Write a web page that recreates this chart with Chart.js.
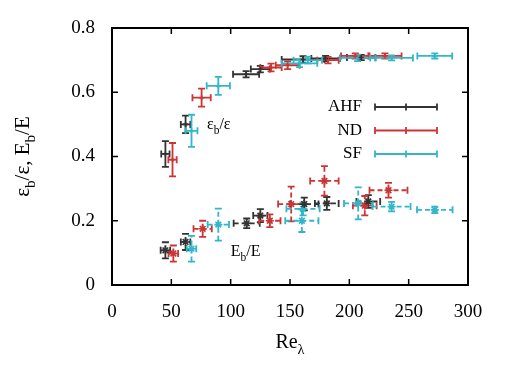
<!DOCTYPE html>
<html lang="en">
<head>
<meta charset="UTF-8">
<title>Bottleneck fraction vs Re_lambda</title>
<script src="https://cdn.jsdelivr.net/npm/chart.js@4.4.1/dist/chart.umd.min.js"></script>
<style>
  html, body { margin: 0; padding: 0; background: #fff; }
  #wrap { width: 509px; height: 382px; }
</style>
</head>
<body>
<div id="wrap"><canvas id="chart"></canvas></div>
<script>
// rows: [Re_lambda, value, x error, y error]
const ahfEps = [[45, 0.408, 3.5, 0.04], [62, 0.50, 4, 0.027], [113, 0.656, 11, 0.01], [125, 0.672, 8, 0.01],
                [161, 0.702, 18, 0.01], [180, 0.705, 12, 0.008], [210, 0.708, 12, 0.008]];
const ndEps  = [[51, 0.39, 3.5, 0.052], [75.5, 0.583, 7.7, 0.028], [134, 0.677, 9, 0.012], [148, 0.684, 10, 0.012],
                [182, 0.70, 9, 0.01], [205, 0.713, 12, 0.008], [230, 0.713, 14, 0.008]];
const sfEps  = [[67, 0.48, 5, 0.05], [89.6, 0.62, 9.8, 0.028], [158, 0.69, 15, 0.012], [165, 0.70, 12, 0.01],
                [207, 0.707, 15, 0.01], [235.6, 0.707, 18, 0.008], [272, 0.713, 14.7, 0.008]];

const ahfE = [[45, 0.108, 4, 0.025], [62, 0.134, 4, 0.025], [113.5, 0.192, 11, 0.015], [125, 0.216, 6, 0.02],
              [162, 0.252, 12, 0.02], [181, 0.254, 10, 0.02], [216, 0.26, 10, 0.02]];
const ndE  = [[51.7, 0.098, 4, 0.025], [76.4, 0.175, 7.7, 0.025], [133, 0.20, 9, 0.02], [151, 0.252, 11, 0.054],
              [179, 0.324, 12, 0.046], [213, 0.247, 10, 0.03], [233, 0.295, 16, 0.023]];
const sfE  = [[67, 0.113, 4, 0.04], [89.6, 0.188, 9, 0.05], [160, 0.20, 14, 0.035], [161, 0.237, 14, 0.02],
              [207.5, 0.254, 12, 0.05], [235.6, 0.244, 16, 0.015], [272, 0.234, 15, 0.01]];

const seriesNames = ['AHF', 'ND', 'SF'];
const colors = ['#333333', '#cc3535', '#33b6ca'];
const xTicks = [0, 50, 100, 150, 200, 250, 300];
const yTicks = [0, 0.2, 0.4, 0.6, 0.8];

const serif = "'Liberation Serif', 'DejaVu Serif', serif";

function makeSet(rows, idx, dashed) {
  return {
    label: seriesNames[idx] + (dashed ? ' E' : ' eps'),
    data: rows.map(r => ({ x: r[0], y: r[1] })),
    errors: rows.map(r => [r[2], r[3]]),
    dashed: dashed,
    legend: !dashed,
    borderColor: colors[idx],
    backgroundColor: colors[idx],
    pointStyle: dashed ? 'star' : 'cross',
    pointRadius: dashed ? 4 : 2.5,
    pointBorderWidth: 1.6,
    showLine: false
  };
}

// error bars, drawn under the point markers
const errorBars = {
  id: 'errorBars',
  beforeDatasetsDraw(chart) {
    const { ctx, scales: { x, y } } = chart;
    chart.data.datasets.forEach(ds => {
      ctx.save();
      ctx.strokeStyle = ds.borderColor;
      ctx.lineWidth = 1.8;
      ds.data.forEach((p, i) => {
        const [dx, dy] = ds.errors[i];
        const cx = x.getPixelForValue(p.x), cy = y.getPixelForValue(p.y);
        const x0 = x.getPixelForValue(p.x - dx), x1 = x.getPixelForValue(p.x + dx);
        const y0 = y.getPixelForValue(p.y - dy), y1 = y.getPixelForValue(p.y + dy);
        ctx.setLineDash(ds.dashed ? [5, 3] : []);
        ctx.beginPath();
        ctx.moveTo(x0, cy); ctx.lineTo(x1, cy);
        ctx.moveTo(cx, y0); ctx.lineTo(cx, y1);
        ctx.stroke();
        ctx.setLineDash([]);
        ctx.beginPath();
        ctx.moveTo(x0, cy - 3.5); ctx.lineTo(x0, cy + 3.5);
        ctx.moveTo(x1, cy - 3.5); ctx.lineTo(x1, cy + 3.5);
        ctx.moveTo(cx - 3.5, y0); ctx.lineTo(cx + 3.5, y0);
        ctx.moveTo(cx - 3.5, y1); ctx.lineTo(cx + 3.5, y1);
        ctx.stroke();
      });
      ctx.restore();
    });
  }
};

// text with subscript parts: parts = [[text, isSub], ...]
function drawRich(ctx, parts, x, y, size) {
  let cx = x;
  parts.forEach(([t, sub]) => {
    ctx.font = (sub ? size * 0.72 : size) + 'px ' + serif;
    ctx.fillText(t, cx, sub ? y + size * 0.3 : y);
    cx += ctx.measureText(t).width;
  });
  return cx - x;
}
function richWidth(ctx, parts, size) {
  let w = 0;
  parts.forEach(([t, sub]) => {
    ctx.font = (sub ? size * 0.72 : size) + 'px ' + serif;
    w += ctx.measureText(t).width;
  });
  return w;
}

const frameAndText = {
  id: 'frameAndText',
  afterDraw(chart) {
    const { ctx, chartArea: a, scales: { x, y } } = chart;
    ctx.save();
    ctx.strokeStyle = '#000';
    ctx.lineWidth = 2;
    ctx.strokeRect(a.left, a.top, a.right - a.left, a.bottom - a.top);
    ctx.lineWidth = 1.5;
    ctx.beginPath();
    xTicks.forEach(v => {
      const px = x.getPixelForValue(v);
      ctx.moveTo(px, a.bottom); ctx.lineTo(px, a.bottom - 6);
      ctx.moveTo(px, a.top); ctx.lineTo(px, a.top + 6);
    });
    yTicks.forEach(v => {
      const py = y.getPixelForValue(v);
      ctx.moveTo(a.left, py); ctx.lineTo(a.left + 6, py);
      ctx.moveTo(a.right, py); ctx.lineTo(a.right - 6, py);
    });
    ctx.stroke();

    // legend
    ctx.textBaseline = 'middle';
    chart.data.datasets.filter(ds => ds.legend).forEach((ds, i) => {
      const ly = a.top + 79 + i * 23.5;
      ctx.fillStyle = '#000';
      ctx.font = '17px ' + serif;
      ctx.textAlign = 'right';
      ctx.fillText(seriesNames[i], a.right - 106, ly);
      const l0 = a.right - 93, l1 = a.right - 31, lm = (l0 + l1) / 2;
      ctx.strokeStyle = ds.borderColor;
      ctx.lineWidth = 1.8;
      ctx.beginPath();
      ctx.moveTo(l0, ly); ctx.lineTo(l1, ly);
      [l0, lm, l1].forEach(px => { ctx.moveTo(px, ly - 3.5); ctx.lineTo(px, ly + 3.5); });
      ctx.stroke();
    });

    // curve labels
    ctx.fillStyle = '#000';
    ctx.textAlign = 'left';
    ctx.textBaseline = 'alphabetic';
    drawRich(ctx, [['\u03b5', false], ['b', true], ['/\u03b5', false]], x.getPixelForValue(80), y.getPixelForValue(0.485), 16);
    drawRich(ctx, [['E', false], ['b', true], ['/E', false]], x.getPixelForValue(100), y.getPixelForValue(0.09), 16);

    // axis titles
    const xt = [['Re', false], ['\u03bb', true]];
    const xw = richWidth(ctx, xt, 20);
    drawRich(ctx, xt, (a.left + a.right) / 2 - xw / 2, 348, 20);

    const yt = [['\u03b5', false], ['b', true], ['/\u03b5, E', false], ['b', true], ['/E', false]];
    const yw = richWidth(ctx, yt, 21);
    ctx.translate(29, (a.top + a.bottom) / 2);
    ctx.rotate(-Math.PI / 2);
    drawRich(ctx, yt, -yw / 2, 0, 21);
    ctx.restore();
  }
};

new Chart(document.getElementById('chart'), {
  type: 'scatter',
  data: {
    datasets: [
      makeSet(ahfEps, 0, false), makeSet(ndEps, 1, false), makeSet(sfEps, 2, false),
      makeSet(ahfE, 0, true), makeSet(ndE, 1, true), makeSet(sfE, 2, true)
    ]
  },
  options: {
    responsive: true,
    maintainAspectRatio: false,
    animation: false,
    layout: { padding: { top: 28, right: 41, bottom: 0, left: 0 } },
    plugins: { legend: { display: false }, tooltip: { enabled: false } },
    scales: {
      x: {
        min: 0, max: 300,
        afterBuildTicks: s => { s.ticks = xTicks.map(v => ({ value: v })); },
        afterFit: s => { s.height = 97; },
        grid: { display: false },
        border: { display: false },
        ticks: { color: '#000', padding: 8, maxRotation: 0, font: { family: serif, size: 19 } }
      },
      y: {
        min: 0, max: 0.8,
        afterBuildTicks: s => { s.ticks = yTicks.map(v => ({ value: v })); },
        afterFit: s => { s.width = 112; },
        grid: { display: false },
        border: { display: false },
        ticks: { color: '#000', padding: 9, font: { family: serif, size: 19 } }
      }
    }
  },
  plugins: [errorBars, frameAndText]
});
</script>
</body>
</html>
